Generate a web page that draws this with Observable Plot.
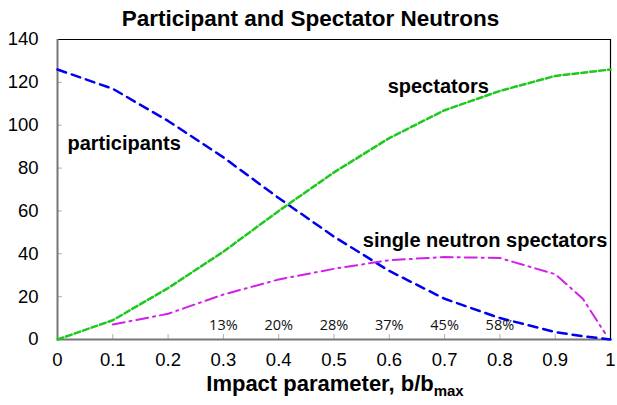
<!DOCTYPE html>
<html>
<head>
<meta charset="utf-8">
<script src="https://cdn.jsdelivr.net/npm/d3@7"></script>
<script src="https://cdn.jsdelivr.net/npm/@observablehq/plot@0.6"></script>
<style>
  body { margin: 0; background: #fff; }
  #chart svg { font-family: "Liberation Sans", Arial, sans-serif; }
</style>
</head>
<body>
<div id="chart"></div>
<script>
const bValues = [0, 0.1, 0.2, 0.3, 0.4, 0.5, 0.6, 0.7, 0.8, 0.9, 0.95, 1.0];
const participants = [126, 117, 102, 85, 66, 48, 32, 19, 10, 3.5, 1.5, 0];
const spectators = [0, 9, 24, 41, 60, 78, 94, 107, 116, 123, 124.5, 126];
const singleB = [0.1, 0.2, 0.3, 0.4, 0.5, 0.6, 0.7, 0.8, 0.9, 0.95, 0.99];
const singleSpectators = [7, 12, 21, 28, 33, 37, 38.5, 38, 30.5, 19, 3];
const pctB = [0.3, 0.4, 0.5, 0.6, 0.7, 0.8];
const pctLabels = ["13%", "20%", "28%", "37%", "45%", "58%"];
const xTicks = [0, 0.1, 0.2, 0.3, 0.4, 0.5, 0.6, 0.7, 0.8, 0.9, 1];
const yTicks = [0, 20, 40, 60, 80, 100, 120, 140];

const partData = bValues.map((b, i) => ({b, v: participants[i]}));
const specData = bValues.map((b, i) => ({b, v: spectators[i]}));
const singleData = singleB.map((b, i) => ({b, v: singleSpectators[i]}));
const pctData = pctB.map((b, i) => ({b, t: pctLabels[i]}));

const chart = Plot.plot({
  width: 617,
  height: 405,
  marginLeft: 57,
  marginRight: 7,
  marginTop: 39,
  marginBottom: 66,
  style: {fontFamily: "Liberation Sans, Arial, sans-serif", background: "#fff"},
  x: {domain: [0, 1]},
  y: {domain: [0, 140]},
  marks: [
    Plot.axisX({ticks: xTicks, tickFormat: d => String(+d.toFixed(1)), tickSize: -5, tickPadding: 18, stroke: "#b0b0b0", fontSize: 18.5, fill: "#000", label: null}),
    Plot.axisY({ticks: yTicks, tickSize: -5, tickPadding: 24, stroke: "#b0b0b0", fontSize: 18.5, fill: "#000", label: null}),
    Plot.ruleY([140], {stroke: "#000", strokeWidth: 1}),
    Plot.ruleX([1], {stroke: "#000", strokeWidth: 1.2}),
    Plot.ruleX([0], {stroke: "#777", strokeWidth: 2}),
    Plot.ruleY([0], {stroke: "#777", strokeWidth: 2}),
    Plot.line(partData, {x: "b", y: "v", stroke: "#0000ee", strokeWidth: 2.5, strokeDasharray: "9,6"}),
    Plot.line(specData, {x: "b", y: "v", stroke: "#1ec81e", strokeWidth: 2.5, strokeDasharray: "6,3"}),
    Plot.line(singleData, {x: "b", y: "v", stroke: "#d020e8", strokeWidth: 2, strokeDasharray: "12,5,2,5"}),
    Plot.text(pctData, {x: "b", y: 6.5, text: "t", fontSize: 14.5, fontFamily: "Open Sans, sans-serif", fill: "#111"}),
    Plot.text(["participants"], {x: 0.018, y: 91.5, text: d => d, textAnchor: "start", fontSize: 20, fontWeight: "bold", fill: "#000"}),
    Plot.text(["spectators"], {x: 0.597, y: 118, text: d => d, textAnchor: "start", fontSize: 20, fontWeight: "bold", fill: "#000"}),
    Plot.text(["single neutron spectators"], {x: 0.552, y: 46, text: d => d, textAnchor: "start", fontSize: 20, fontWeight: "bold", fill: "#000"}),
    Plot.text(["Participant and Spectator Neutrons"], {frameAnchor: "top-left", dx: 253, dy: -21, lineAnchor: "middle", text: d => d, textAnchor: "middle", fontSize: 22.5, fontWeight: "bold", fill: "#000"})
  ]
});

const svg = d3.select(chart);
const lbl = svg.append("text")
  .attr("x", 335)
  .attr("y", 391)
  .attr("text-anchor", "middle")
  .attr("font-size", 22)
  .attr("font-weight", "bold")
  .attr("font-family", "Liberation Sans, Arial, sans-serif")
  .attr("fill", "#000");
lbl.append("tspan").text("Impact parameter, b/b");
lbl.append("tspan").attr("dy", 5).attr("font-size", 15).text("max");

document.getElementById("chart").appendChild(chart);
</script>
</body>
</html>
